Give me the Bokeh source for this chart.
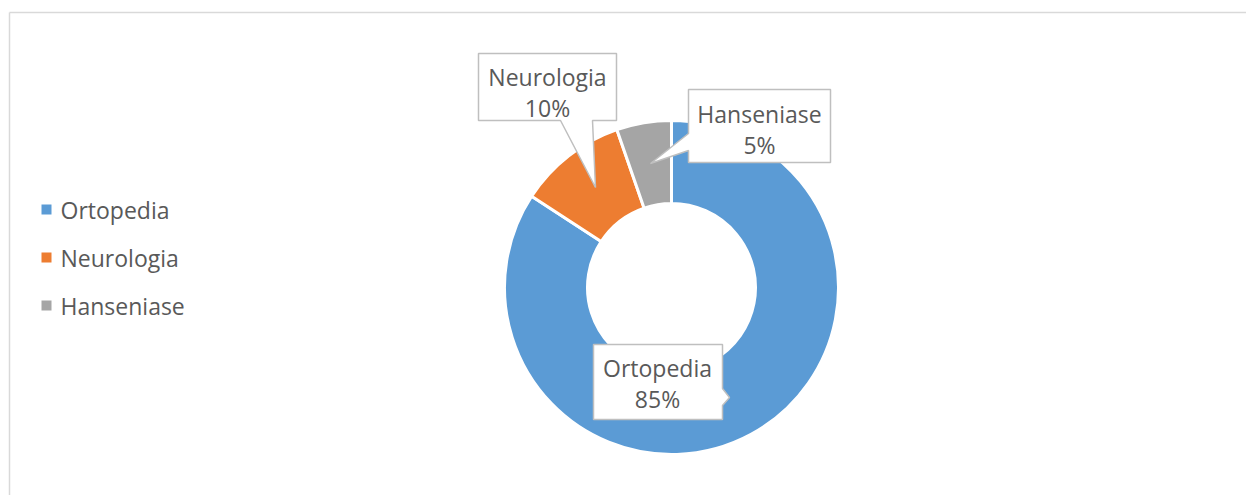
import math
from bokeh.plotting import figure
from bokeh.models import Range1d, ColumnDataSource
from bokeh.core.properties import value
from bokeh.embed import file_html
from bokeh.resources import INLINE

# ---- data ----
categories = ["Ortopedia", "Neurologia", "Hanseniase"]
shares = [84.2, 10.5, 5.3]
label_pct = ["85%", "10%", "5%"]
colors = ["#5B9BD5", "#ED7D31", "#A5A5A5"]

# ---- layout (page pixels -> data coords, 1:1) ----
W, H = 1246, 495
OX, OY = 0, 0
def px(X):
    return X - OX
def py(Y):
    return H + OY - Y

p = figure(width=W, height=H, output_backend="svg", toolbar_location=None,
           x_range=Range1d(0, W), y_range=Range1d(0, H), min_border=0)
p.axis.visible = False
p.grid.visible = False
p.outline_line_color = None
p.background_fill_color = "white"
p.border_fill_color = "white"

# chart-area border (top & left visible)
p.segment(x0=[px(9), px(9)], y0=[py(12), py(12)], x1=[px(1246), px(9)], y1=[py(12), py(495)],
          line_color="#D9D9D9", line_width=1.5)

# ---- donut ----
total = sum(shares)
starts, ends = [], []
cum = 0.0
for s in shares:
    a0 = math.pi / 2 - 2 * math.pi * cum / total
    cum += s
    a1 = math.pi / 2 - 2 * math.pi * cum / total
    starts.append(a0)
    ends.append(a1)
cx, cy = px(671), py(287)
src = ColumnDataSource(dict(cat=categories, start=starts, end=ends, color=colors))
p.annular_wedge(x=cx, y=cy, inner_radius=84, outer_radius=167, inner_radius_units="screen",
                outer_radius_units="screen", start_angle="start", end_angle="end",
                direction="clock", fill_color="color", line_color="white", line_width=3,
                source=src)

# ---- callout labels ----
callouts = [
    # Ortopedia
    [(593, 344), (722, 344), (722, 388), (729, 397), (722, 405), (722, 419), (593, 419)],
    # Neurologia
    [(478, 53), (616, 53), (616, 120), (592, 120), (595, 187), (560, 120), (478, 120)],
    # Hanseniase
    [(688, 89), (830, 89), (830, 162), (688, 162), (688, 150), (650, 163), (688, 133)],
]
p.patches(xs=[[px(a) for a, b in c] for c in callouts],
          ys=[[py(b) for a, b in c] for c in callouts],
          fill_color="white", line_color="#BFBFBF", line_width=1.5)

FS = "23px"
# visual middles of the two label lines
text_centers = [(657, 367, 398), (547, 76, 107), (759, 113, 144)]
font = value("Open Sans")
for i, (tx, m1, m2) in enumerate(text_centers):
    p.text(x=[px(tx), px(tx)], y=[py(m1), py(m2)], text=[categories[i], label_pct[i]],
           text_font=font, text_font_size=FS, text_color="#595959",
           text_align="center", text_baseline="middle")

# ---- legend ----
leg_y = [209, 257, 305]
p.rect(x=[px(46)] * 3, y=[py(v) for v in leg_y], width=10, height=10,
       width_units="screen", height_units="screen", fill_color=colors, line_color=None)
p.text(x=[px(60)] * 3, y=[py(v) for v in leg_y], text=categories,
       text_font=font, text_font_size=FS, text_color="#595959",
       text_align="left", text_baseline="middle")

open("out.html", "w").write(file_html(p, INLINE))
